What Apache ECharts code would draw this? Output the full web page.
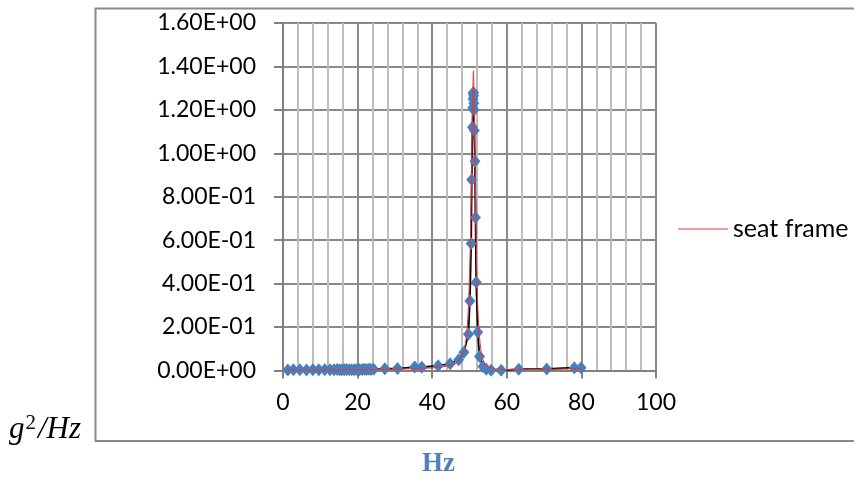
<!DOCTYPE html>
<html>
<head>
<meta charset="utf-8">
<script src="https://cdn.jsdelivr.net/npm/echarts@6/dist/echarts.min.js"></script>
<style>html,body{margin:0;padding:0;background:#fff}#c{width:854px;height:477px}</style>
</head>
<body>
<div id="c"></div>
<script>
// measured series (black line with blue diamonds)
const measX = [1.3,2.8,4.5,6.3,8.0,9.6,11.2,12.6,13.7,14.5,15.2,15.8,16.4,17.0,17.7,18.4,19.1,19.8,20.5,21.2,21.8,22.4,23.0,23.6,24.3,27.3,30.7,35.3,37.2,41.6,44.8,47.1,48.5,49.7,50.1,50.45,50.6,50.8,50.9,50.95,51.0,51.05,51.1,51.15,51.2,51.3,51.45,51.6,51.8,52.2,52.7,53.6,54.5,55.8,58.5,63.2,70.7,78.1,79.9];
const measY = [0.002,0.003,0.003,0.002,0.003,0.003,0.004,0.003,0.004,0.005,0.004,0.003,0.004,0.005,0.004,0.003,0.004,0.005,0.004,0.005,0.006,0.005,0.006,0.005,0.006,0.008,0.009,0.016,0.015,0.022,0.031,0.05,0.084,0.167,0.32,0.585,0.878,1.12,1.21,1.25,1.275,1.28,1.265,1.23,1.2,1.105,0.963,0.704,0.406,0.176,0.064,0.018,0.006,0.001,0.001,0.006,0.007,0.013,0.013];
// "seat frame" series (red line)
const seatX = [1,10,20,30,40,44,46,47,48,48.8,49.4,49.9,50.3,50.6,50.85,51.05,51.25,51.5,51.8,52.1,52.5,53,53.5,54,55,57,60,70,80];
const seatY = [0.001,0.002,0.003,0.006,0.012,0.02,0.03,0.042,0.065,0.11,0.2,0.38,0.65,0.95,1.25,1.38,1.25,0.95,0.6,0.35,0.2,0.1,0.055,0.035,0.018,0.008,0.004,0.005,0.009];
const seatName = 'seat frame';
const xTitle = 'Hz';

function sci(v){
  if (Math.abs(v) < 1e-12) return '0.00E+00';
  let e = Math.floor(Math.log10(Math.abs(v)) + 1e-9);
  let m = v / Math.pow(10, e);
  let ms = m.toFixed(2);
  if (parseFloat(ms) >= 10) { e += 1; ms = (v / Math.pow(10, e)).toFixed(2); }
  return ms + 'E' + (e < 0 ? '-' : '+') + String(Math.abs(e)).padStart(2, '0');
}

const FONT = 'Lato';
const chart = echarts.init(document.getElementById('c'), null, {renderer:'canvas'});
chart.setOption({
  animation:false,
  backgroundColor:'#fff',
  grid:{left:283, right:198, top:23, bottom:106.5, containLabel:false},
  xAxis:{
    type:'value', min:0, max:100, interval:20,
    axisLine:{show:true, lineStyle:{color:'#808080', width:2}},
    axisTick:{show:true, length:8, lineStyle:{color:'#808080', width:2}},
    minorTick:{show:false, splitNumber:5},
    splitLine:{show:true, lineStyle:{color:'#8a8a8a', width:2}},
    minorSplitLine:{show:true, lineStyle:{color:'#bdbdbd', width:2}},
    axisLabel:{color:'#000', fontFamily:FONT, fontSize:23, margin:21}
  },
  yAxis:{
    type:'value', min:0, max:1.6, interval:0.2,
    axisLine:{show:true, lineStyle:{color:'#808080', width:2}},
    axisTick:{show:true, length:9, lineStyle:{color:'#808080', width:2}},
    splitLine:{show:true, lineStyle:{color:'#8a8a8a', width:2}},
    axisLabel:{color:'#000', fontFamily:FONT, fontSize:23, margin:27, formatter:sci}
  },
  legend:{
    data:[seatName], left:673, top:211, icon:'rect', itemWidth:50, itemHeight:1.5,
    textStyle:{color:'#000', fontFamily:FONT, fontSize:25, lineHeight:26}
  },
  graphic:[
    {type:'rect', shape:{x:95.5, y:8.5, width:820, height:432.5}, style:{fill:'none', stroke:'#8a8a8a', lineWidth:2}, z:-1, silent:true},
    {type:'text', left:9, top:413, style:{
      text:'{i|g}{s|2}{i|/Hz}',
      rich:{
        i:{font:'italic 31px "Liberation Serif"', fill:'#000', verticalAlign:'bottom'},
        s:{font:'21px "Liberation Serif"', fill:'#000', verticalAlign:'top', padding:[0,2,11,1]}
      }}},
    {type:'text', left:422, top:451, style:{text:xTitle, font:'bold 27px "Liberation Serif"', fill:'#4F81BD'}}
  ],
  series:[
    {name:'measured', type:'line', data:measX.map((x,i)=>[x,measY[i]]),
     symbol:'diamond', symbolSize:[11,13], showAllSymbol:true,
     lineStyle:{color:'#000', width:1.8}, itemStyle:{color:'#4A7EBB'}, z:2},
    {name:seatName, type:'line', data:seatX.map((x,i)=>[x,seatY[i]]), smooth:0.3,
     symbol:'none', lineStyle:{color:'#E03A3A', width:1}, itemStyle:{color:'#E88080'}, z:3}
  ]
});
</script>
</body>
</html>
